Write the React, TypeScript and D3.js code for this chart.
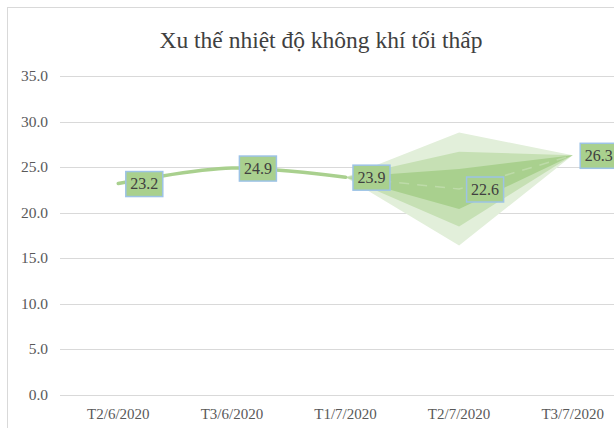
import { useEffect, useRef } from "react";
import * as d3 from "d3";

const categories = ["T2/6/2020", "T3/6/2020", "T1/7/2020", "T2/7/2020", "T3/7/2020"];
const actual = [23.2, 24.9, 23.9];
const forecast = [23.9, 22.6, 26.3];
const upper95 = [23.9, 28.8, 26.3];
const lower95 = [23.9, 16.4, 26.3];
const upper80 = [23.9, 26.7, 26.3];
const lower80 = [23.9, 18.5, 26.3];
const upper50 = [23.9, 24.8, 26.3];
const lower50 = [23.9, 20.4, 26.3];
const labelValues = [23.2, 24.9, 23.9, 22.6, 26.3];
const yTicks = [0, 5, 10, 15, 20, 25, 30, 35];

const W = 614;
const H = 428;
const FONT = "'Liberation Serif', 'Times New Roman', serif";

export default function App() {
  const svgRef = useRef<SVGSVGElement>(null);

  useEffect(() => {
    if (!svgRef.current) return;
    const svg = d3.select(svgRef.current);
    svg.selectAll("*").remove();

    // category centers ~118 .. 573
    const x = d3.scaleBand<string>().domain(categories).range([61.5, 629.5]).padding(0);
    const cx = (c: string) => (x(c) as number) + x.bandwidth() / 2;
    const y = d3.scaleLinear().domain([0, 35]).range([395, 76]);

    // chart frame
    svg
      .append("rect")
      .attr("x", 7.5)
      .attr("y", 7.5)
      .attr("width", W + 20)
      .attr("height", H + 20)
      .attr("fill", "#fff")
      .attr("stroke", "#d9d9d9");

    // title
    svg
      .append("text")
      .attr("x", 321)
      .attr("y", 48)
      .attr("text-anchor", "middle")
      .attr("font-family", FONT)
      .attr("font-size", 23.5)
      .attr("fill", "#404040")
      .text("Xu thế nhiệt độ không khí tối thấp");

    // gridlines + y labels
    const grid = svg.append("g");
    yTicks.forEach((t) => {
      grid
        .append("line")
        .attr("x1", 60)
        .attr("x2", W)
        .attr("y1", Math.round(y(t)) + 0.5)
        .attr("y2", Math.round(y(t)) + 0.5)
        .attr("stroke", "#d9d9d9")
        .attr("stroke-width", 1);
      grid
        .append("text")
        .attr("x", 48)
        .attr("y", y(t) + 5)
        .attr("text-anchor", "end")
        .attr("font-family", FONT)
        .attr("font-size", 15.5)
        .attr("fill", "#595959")
        .text(t.toFixed(1));
    });

    // x labels
    categories.forEach((c) => {
      svg
        .append("text")
        .attr("x", cx(c))
        .attr("y", 419)
        .attr("text-anchor", "middle")
        .attr("font-family", FONT)
        .attr("font-size", 15)
        .attr("fill", "#595959")
        .text(c);
    });

    // confidence bands
    const fc = categories.slice(2);
    const band = (up: number[], lo: number[]) => {
      const pts: [number, number][] = [
        ...fc.map((c, i) => [cx(c), y(up[i])] as [number, number]),
        ...fc
          .map((c, i) => [cx(c), y(lo[i])] as [number, number])
          .reverse(),
      ];
      return "M" + pts.map((p) => p.join(",")).join("L") + "Z";
    };
    svg.append("path").attr("d", band(upper95, lower95)).attr("fill", "#e2efda");
    svg.append("path").attr("d", band(upper80, lower80)).attr("fill", "#c6e0b4");
    svg.append("path").attr("d", band(upper50, lower50)).attr("fill", "#a9d08e");

    // forecast line (faint dashes)
    const lin = d3
      .line<number>()
      .x((_, i) => cx(fc[i]))
      .y((d) => y(d));
    svg
      .append("path")
      .attr("d", lin(forecast))
      .attr("fill", "none")
      .attr("stroke", "#c6e0b4")
      .attr("stroke-opacity", 0.7)
      .attr("stroke-width", 1.5)
      .attr("stroke-dasharray", "10,8");

    // actual line (smoothed)
    const smooth = d3
      .line<number>()
      .x((_, i) => cx(categories[i]))
      .y((d) => y(d))
      .curve(d3.curveCatmullRom.alpha(0.5));
    svg
      .append("path")
      .attr("d", smooth(actual))
      .attr("fill", "none")
      .attr("stroke", "#a9d08e")
      .attr("stroke-width", 3.5)
      .attr("stroke-linecap", "round");

    // data labels
    const lw = 37;
    const lh = 25;
    labelValues.forEach((v, i) => {
      const px = cx(categories[i]);
      const py = y(v);
      const g = svg.append("g").attr("transform", `translate(${px + 7},${py - lh / 2})`);
      g.append("rect")
        .attr("x", 0.5)
        .attr("y", 0.5)
        .attr("width", lw)
        .attr("height", lh)
        .attr("fill", "#a9d08e")
        .attr("stroke", "#9dc3e6")
        .attr("stroke-width", 1.5);
      g.append("text")
        .attr("x", lw / 2 + 0.5)
        .attr("y", lh / 2 + 5.5)
        .attr("text-anchor", "middle")
        .attr("font-family", FONT)
        .attr("font-size", 16)
        .attr("fill", "#404040")
        .text(v.toFixed(1));
    });
  }, []);

  return (
    <svg
      ref={svgRef}
      width={W}
      height={H}
      style={{ position: "absolute", left: 0, top: 0, background: "#fff" }}
    />
  );
}
